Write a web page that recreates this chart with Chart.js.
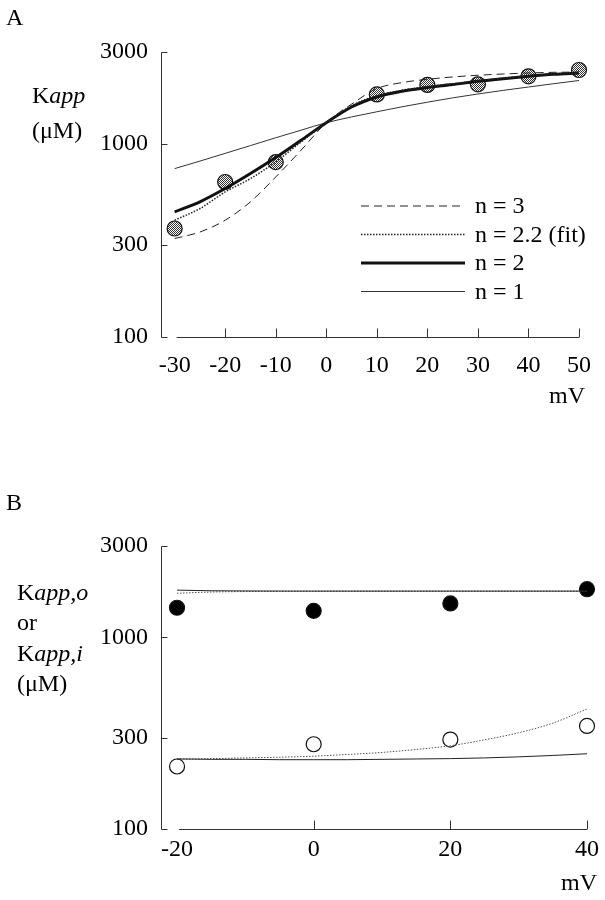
<!DOCTYPE html>
<html>
<head>
<meta charset="utf-8">
<script src="https://cdn.jsdelivr.net/npm/chart.js@4.4.0/dist/chart.umd.min.js"></script>
<style>
  body { margin: 0; background: #fff; }
  #wrap { position: relative; width: 605px; height: 900px; overflow: hidden; }
  canvas { position: absolute; left: 0; }
  #chartA { top: 0; }
  #chartB { top: 460px; }
  .lbl { position: absolute; font-family: 'Liberation Serif', 'Times New Roman', serif;
         font-size: 24px; line-height: 24px; color: #000; white-space: nowrap; }
</style>
</head>
<body>
<div id="wrap">
  <canvas id="chartA" width="605" height="440"></canvas>
  <canvas id="chartB" width="605" height="440"></canvas>

  <div class="lbl" style="left:6px;top:5px">A</div>
  <div class="lbl" style="left:32px;top:83px">K<i>app</i></div>
  <div class="lbl" style="left:32px;top:118px">(μM)</div>
  <div class="lbl" style="right:20px;top:383px">mV</div>

  <div class="lbl" style="left:6px;top:490px">B</div>
  <div class="lbl" style="left:17px;top:580px">K<i>app,o</i></div>
  <div class="lbl" style="left:17px;top:610px">or</div>
  <div class="lbl" style="left:17px;top:641px">K<i>app,i</i></div>
  <div class="lbl" style="left:17px;top:671px">(μM)</div>
  <div class="lbl" style="right:8px;top:870px">mV</div>
</div>

<script>
// panel A: Kapp vs voltage, fits with different n
var mvA = [-30, -25, -20, -15, -10, -5, 0, 5, 10, 15, 20, 25, 30, 35, 40, 45, 50];
var n3 = [324, 350, 403, 502, 675, 929, 1290, 1610, 1937, 2083, 2166, 2227, 2273, 2307, 2335, 2354, 2360];
var n22 = [403, 463, 565, 662, 808, 1025, 1290, 1580, 1780, 1900, 1985, 2055, 2130, 2195, 2255, 2305, 2340];
var n2 = [445, 502, 588, 703, 851, 1046, 1290, 1556, 1754, 1877, 1962, 2033, 2114, 2183, 2245, 2299, 2335];
var n1 = [746, 816, 895, 982, 1078, 1180, 1290, 1382, 1470, 1560, 1648, 1735, 1818, 1898, 1975, 2055, 2135];
var mvPtsA = [-30, -20, -10, 10, 20, 30, 40, 50];
var kappA = [365, 636, 806, 1808, 2025, 2040, 2245, 2420];
var xTicksA = [-30, -20, -10, 0, 10, 20, 30, 40, 50];

// panel B: Kapp,o (filled) and Kapp,i (open)
var mvB = [-20, -15, -10, -5, 0, 5, 10, 15, 20, 25, 30, 35, 40];
var outSolid = [1765, 1752, 1748, 1746, 1745, 1745, 1745, 1745, 1745, 1745, 1745, 1745, 1745];
var outDotted = [1700, 1725, 1735, 1738, 1740, 1740, 1740, 1740, 1740, 1740, 1740, 1740, 1740];
var inSolid = [232, 231, 231, 230, 230, 230, 231, 232, 233, 235, 238, 242, 247];
var inDotted = [232, 233, 235, 237, 240, 245, 251, 260, 272, 292, 318, 357, 423];
var mvPtsB = [-20, 0, 20, 40];
var kappO = [1428, 1376, 1504, 1786];
var kappI = [212, 277, 293, 345];
var xTicksB = [-20, 0, 20, 40];

var yTicks = [100, 300, 1000, 3000];
var serif = "'Liberation Serif', 'Times New Roman', serif";

function toXY(xs, ys) {
  return xs.map(function (x, i) { return { x: x, y: ys[i] }; });
}

function stipple() {
  var c = document.createElement('canvas');
  c.width = 2; c.height = 2;
  var g = c.getContext('2d');
  g.fillStyle = '#fff';
  g.fillRect(0, 0, 2, 2);
  g.fillStyle = '#333';
  g.fillRect(0, 0, 1, 1);
  g.fillRect(1, 1, 1, 1);
  return g.createPattern(c, 'repeat');
}

function lineSet(label, xs, ys, width, dash, color) {
  return {
    label: label,
    data: toXY(xs, ys),
    borderColor: color,
    borderWidth: width,
    borderDash: dash,
    pointRadius: 0,
    cubicInterpolationMode: 'monotone',
    fill: false,
    clip: false
  };
}

function pointSet(label, xs, ys, bg) {
  return {
    label: label,
    data: toXY(xs, ys),
    showLine: false,
    pointRadius: 7.5,
    pointBackgroundColor: bg,
    pointBorderColor: '#111',
    pointBorderWidth: 1.2,
    clip: false
  };
}

// old style axes: y axis offset from the x axis, ticks pointing inward
var oldAxes = {
  id: 'oldAxes',
  afterDraw: function (chart, args, opts) {
    var ctx = chart.ctx;
    var xs = chart.scales.x, ys = chart.scales.y;
    var left = Math.round(chart.chartArea.left) - 0.5;
    var top = Math.round(ys.getPixelForValue(ys.max)) + 0.5;
    var bottom = Math.round(ys.getPixelForValue(ys.min)) + 0.5;
    ctx.save();
    ctx.strokeStyle = '#333';
    ctx.lineWidth = 1;
    ctx.setLineDash([]);
    ctx.beginPath();
    ctx.moveTo(left, top);
    ctx.lineTo(left, bottom);
    yTicks.forEach(function (v) {
      var py = Math.round(ys.getPixelForValue(v)) + 0.5;
      ctx.moveTo(left, py);
      ctx.lineTo(left + 6, py);
    });
    var t = opts.xTicks;
    ctx.moveTo(xs.getPixelForValue(t[0]) + 2, bottom);
    ctx.lineTo(xs.getPixelForValue(t[t.length - 1]), bottom);
    t.slice(1).forEach(function (v) {
      var px = Math.round(xs.getPixelForValue(v)) + 0.5;
      ctx.moveTo(px, bottom);
      ctx.lineTo(px, bottom - 9);
    });
    ctx.stroke();

    (opts.legend || []).forEach(function (row, i) {
      var ds = chart.data.datasets[row.ds];
      var y = opts.legendY + i * opts.legendStep;
      ctx.beginPath();
      ctx.strokeStyle = ds.borderColor;
      ctx.lineWidth = ds.borderWidth;
      ctx.setLineDash(ds.borderDash);
      ctx.moveTo(opts.legendX, y);
      ctx.lineTo(opts.legendX + 104, y);
      ctx.stroke();
      ctx.setLineDash([]);
      ctx.fillStyle = '#000';
      ctx.font = '24px ' + serif;
      ctx.textBaseline = 'middle';
      ctx.fillText(row.label, opts.legendX + 114, y + 1);
    });
    ctx.restore();
  }
};

function makeOptions(xmin, xmax, xTicks, padTop, padRight, axisH, xPad, extra) {
  var plug = { legend: { display: false }, tooltip: { enabled: false }, oldAxes: extra };
  extra.xTicks = xTicks;
  return {
    responsive: false,
    animation: false,
    layout: { padding: { top: padTop, right: padRight, bottom: 0, left: 0 } },
    plugins: plug,
    scales: {
      x: {
        type: 'linear',
        min: xmin,
        max: xmax,
        bounds: 'data',
        grid: { display: false, drawTicks: false },
        border: { display: false },
        afterBuildTicks: function (s) { s.ticks = xTicks.map(function (v) { return { value: v }; }); },
        afterFit: function (s) { s.height = axisH; },
        ticks: {
          autoSkip: false, maxRotation: 0, padding: xPad, color: '#000',
          font: { family: serif, size: 24 },
          callback: function (v) { return String(v); }
        }
      },
      y: {
        type: 'logarithmic',
        min: 100,
        max: 3000,
        bounds: 'data',
        grid: { display: false, drawTicks: false },
        border: { display: false },
        afterBuildTicks: function (s) { s.ticks = yTicks.map(function (v) { return { value: v }; }); },
        afterFit: function (s) { s.width = 162; },
        ticks: {
          padding: 14, color: '#000',
          font: { family: serif, size: 24 },
          callback: function (v) { return String(v); }
        }
      }
    }
  };
}

function printChartA() {
  new Chart(document.getElementById('chartA'), {
    type: 'line',
    data: {
      datasets: [
        lineSet('n = 3', mvA, n3, 1, [8, 5], '#222'),
        lineSet('n = 2.2 (fit)', mvA, n22, 1.5, [1.5, 1.5], '#222'),
        lineSet('n = 2', mvA, n2, 3, [], '#111'),
        lineSet('n = 1', mvA, n1, 1, [], '#333'),
        pointSet('data', mvPtsA, kappA, stipple())
      ]
    },
    options: makeOptions(-32.5, 50, xTicksA, 52, 17, 103, 14, {
      legendX: 361, legendY: 206, legendStep: 28.5,
      legend: [
        { ds: 0, label: 'n = 3' },
        { ds: 1, label: 'n = 2.2 (fit)' },
        { ds: 2, label: 'n = 2' },
        { ds: 3, label: 'n = 1' }
      ]
    }),
    plugins: [oldAxes]
  });
}

function printChartB() {
  new Chart(document.getElementById('chartB'), {
    type: 'line',
    data: {
      datasets: [
        lineSet('out fit', mvB, outSolid, 1, [], '#222'),
        lineSet('out fit 2', mvB, outDotted, 1, [1.5, 1.5], '#555'),
        lineSet('in fit', mvB, inSolid, 1, [], '#222'),
        lineSet('in fit 2', mvB, inDotted, 1, [1.5, 1.5], '#555'),
        pointSet('Kapp,o', mvPtsB, kappO, '#000'),
        pointSet('Kapp,i', mvPtsB, kappI, '#fff')
      ]
    },
    options: makeOptions(-22.2, 40, xTicksB, 86, 16, 71, 6, {}),
    plugins: [oldAxes]
  });
}

printChartA();
printChartB();
</script>
</body>
</html>
